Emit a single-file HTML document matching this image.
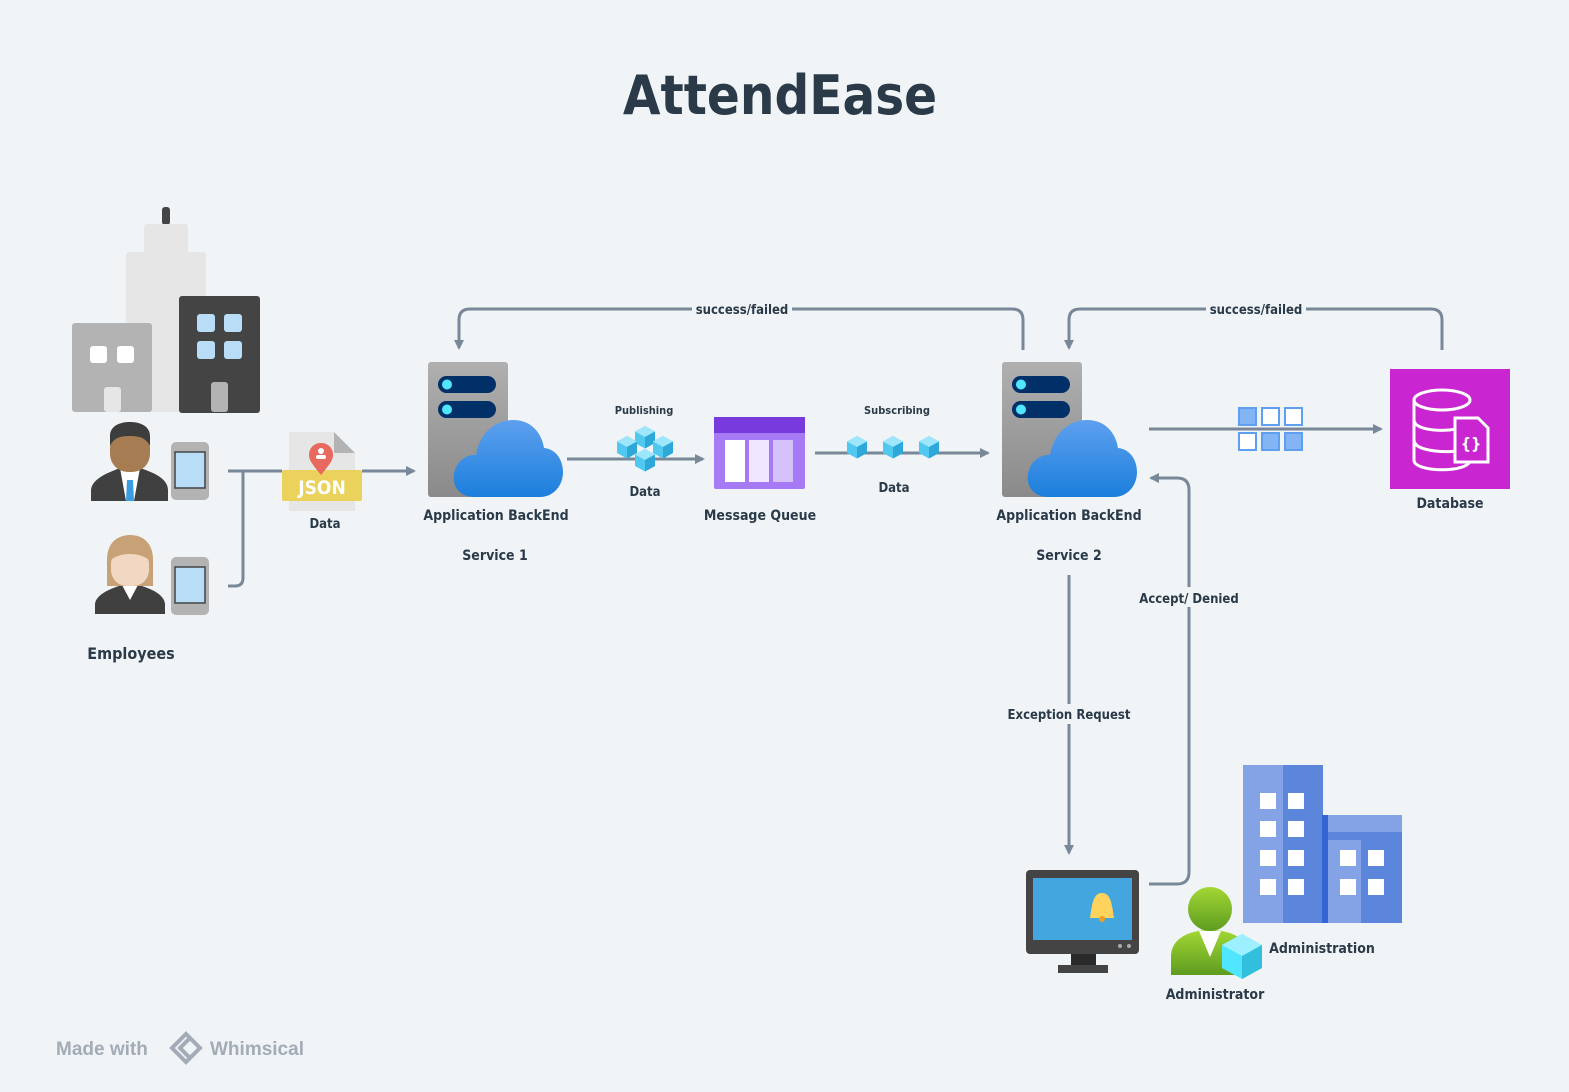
<!DOCTYPE html>
<html><head><meta charset="utf-8"><style>
html,body{margin:0;padding:0;background:#f0f4f7;}
svg{display:block}
text{font-family:"DejaVu Sans Condensed","Liberation Sans",sans-serif;font-weight:bold;fill:#2a3a48}
</style></head><body>
<svg width="1569" height="1092" viewBox="0 0 1569 1092" xmlns="http://www.w3.org/2000/svg">
<defs>
<marker id="ah" markerWidth="10" markerHeight="10" refX="8" refY="5" orient="auto" markerUnits="userSpaceOnUse"><path d="M0,0 L10,5 L0,10 z" fill="#788898"/></marker>
<linearGradient id="srv" x1="0" y1="0" x2="0" y2="1"><stop offset="0" stop-color="#b0b0b0"/><stop offset="1" stop-color="#8a8a8a"/></linearGradient>
<linearGradient id="cld" x1="0" y1="0" x2="0" y2="1"><stop offset="0" stop-color="#5ea0ef"/><stop offset="1" stop-color="#1b7fdc"/></linearGradient>
<linearGradient id="grn" x1="0" y1="0" x2="0" y2="1"><stop offset="0" stop-color="#a3d734"/><stop offset="1" stop-color="#5e9c20"/></linearGradient>
<g id="server">
<rect x="0" y="0" width="80" height="135" rx="3" fill="url(#srv)"/>
<rect x="10" y="14" width="58" height="17" rx="8.5" fill="#003067"/>
<rect x="10" y="39" width="58" height="17" rx="8.5" fill="#003067"/>
<circle cx="19" cy="22.5" r="5" fill="#50e6ff"/><circle cx="19" cy="47.5" r="5" fill="#50e6ff"/>
<path d="M47,135 C27,135 23,118 27,108 C30,98 40,92 48,93 C52,70 68,58 85,58 C104,58 114,72 116,86 C128,87 135,98 135,110 C135,124 125,135 112,135 Z" fill="url(#cld)"/>
</g>
<g id="cube"><path d="M0,-11 L10,-5.5 L10,6 L0,11.5 L-10,6 L-10,-5.5Z" fill="#50c8ef"/><path d="M0,-11 L10,-5.5 L0,0 L-10,-5.5Z" fill="#9ee6fb"/><path d="M0,0 L10,-5.5 L10,6 L0,11.5Z" fill="#2ea8d8"/></g>
</defs>

<text x="780" y="114" font-size="54" text-anchor="middle" fill="#253544">AttendEase</text>

<!-- buildings -->
<rect x="162" y="207" width="8" height="18" rx="3" fill="#444"/>
<rect x="144" y="224" width="44" height="30" rx="3" fill="#e6e6e6"/>
<rect x="126" y="252" width="80" height="160" rx="3" fill="#e6e6e6"/>
<rect x="72" y="323" width="80" height="89" rx="3" fill="#b3b3b3"/>
<rect x="90" y="346" width="17" height="17" rx="3" fill="#fff"/><rect x="117" y="346" width="17" height="17" rx="3" fill="#fff"/>
<rect x="104" y="387" width="17" height="25" rx="3" fill="#e6e6e6"/>
<rect x="179" y="296" width="81" height="117" rx="3" fill="#444"/>
<rect x="197" y="314" width="18" height="18" rx="3" fill="#b9dcf7"/><rect x="224" y="314" width="18" height="18" rx="3" fill="#b9dcf7"/>
<rect x="197" y="341" width="18" height="18" rx="3" fill="#b9dcf7"/><rect x="224" y="341" width="18" height="18" rx="3" fill="#b9dcf7"/>
<rect x="211" y="382" width="17" height="30" rx="3" fill="#b3b3b3"/>

<!-- male -->
<path d="M91,501 L91,490 C92,478 110,472 120,468 L140,468 C152,472 168,478 168,490 L168,501Z" fill="#404040"/>
<path d="M120,468 L140,468 L134,501 L126,501Z" fill="#fff"/>
<path d="M127,480 L133,480 L134,501 L126,501Z" fill="#3a9de0"/>
<rect x="110" y="430" width="40" height="42" rx="18" fill="#a67c52"/>
<path d="M110,446 L110,436 C110,426 120,422 130,422 C140,422 150,426 150,436 L150,446 C146,438 140,436 130,436 C120,436 114,438 110,446Z" fill="#3d3d3d"/>
<rect x="171" y="442" width="38" height="58" rx="5" fill="#b3b3b3"/><rect x="175" y="452" width="30" height="36" fill="#b9dcf7" stroke="#444" stroke-width="1.5"/>
<!-- female -->
<path d="M95,614 L95,604 C96,594 112,588 122,585 L138,585 C150,588 164,594 165,604 L165,614Z" fill="#404040"/>
<path d="M122,585 L138,585 L130,600Z" fill="#fff"/>
<path d="M107,575 L107,560 C107,542 118,535 130,535 C142,535 153,542 153,560 L153,586 L107,586Z" fill="#c8a176"/>
<rect x="111" y="548" width="38" height="38" rx="16" fill="#f2d7c2"/>
<path d="M111,560 C112,545 122,540 130,540 C140,540 148,545 149,560 C140,552 120,552 111,560Z" fill="#c8a176"/>
<rect x="171" y="557" width="38" height="58" rx="5" fill="#b3b3b3"/><rect x="175" y="567" width="30" height="36" fill="#b9dcf7" stroke="#444" stroke-width="1.5"/>
<text x="131" y="659" font-size="16" text-anchor="middle">Employees</text>

<g fill="none" stroke="#788898" stroke-width="3">
<path d="M228,471 L282,471"/>
<path d="M243,471 L243,578 Q243,586 235,586 L228,586"/>
<path d="M362,471 L414,471" marker-end="url(#ah)"/>
<path d="M567,459 L703,459" marker-end="url(#ah)"/>
<path d="M815,453 L988,453" marker-end="url(#ah)"/>
<path d="M1023,350 L1023,320 Q1023,309 1012,309 L470,309 Q459,309 459,320 L459,348" marker-end="url(#ah)"/>
<path d="M1442,350 L1442,320 Q1442,309 1431,309 L1080,309 Q1069,309 1069,320 L1069,348" marker-end="url(#ah)"/>
<path d="M1149,429 L1381,429" marker-end="url(#ah)"/>
<path d="M1069,575 L1069,853" marker-end="url(#ah)"/>
<path d="M1149,884 L1177,884 Q1189,884 1189,872 L1189,490 Q1189,478 1177,478 L1151,478" marker-end="url(#ah)"/>
</g>
<rect x="692" y="300" width="100" height="18" fill="#f0f4f7"/>
<text x="742" y="314" font-size="13" text-anchor="middle">success/failed</text>
<rect x="1206" y="300" width="100" height="18" fill="#f0f4f7"/>
<text x="1256" y="314" font-size="13" text-anchor="middle">success/failed</text>
<rect x="1006" y="704" width="126" height="20" fill="#f0f4f7"/>
<text x="1069" y="719" font-size="13" text-anchor="middle">Exception Request</text>
<rect x="1138" y="587" width="102" height="20" fill="#f0f4f7"/>
<text x="1189" y="603" font-size="13" text-anchor="middle">Accept/ Denied</text>

<!-- JSON -->
<path d="M289,432 L334,432 L355,453 L355,511 L289,511Z" fill="#e6e6e6"/>
<path d="M334,432 L355,453 L334,453Z" fill="#b3b3b3"/>
<rect x="282" y="470" width="80" height="31" rx="2" fill="#ebd25c"/>
<path d="M321,475 C312,464 309,460 309,455 C309,448 314,443 321,443 C328,443 333,448 333,455 C333,460 330,464 321,475Z" fill="#e8695e"/>
<circle cx="321" cy="451" r="3" fill="#fff"/><rect x="316" y="455" width="10" height="4" rx="2" fill="#fff"/>
<text x="322" y="494" font-size="19" text-anchor="middle" style="fill:#fff">JSON</text>
<text x="325" y="528" font-size="13" text-anchor="middle">Data</text>

<use href="#server" x="428" y="362"/>
<text x="496" y="520" font-size="14" text-anchor="middle">Application BackEnd</text>
<text x="495" y="560" font-size="14" text-anchor="middle">Service 1</text>

<use href="#cube" x="645" y="437"/><use href="#cube" x="627" y="447"/><use href="#cube" x="663" y="447"/><use href="#cube" x="645" y="460"/>
<text x="644" y="414" font-size="11" text-anchor="middle">Publishing</text>
<text x="645" y="496" font-size="13" text-anchor="middle">Data</text>

<rect x="714" y="417" width="91" height="72" rx="2" fill="#a67af4"/>
<rect x="714" y="417" width="91" height="16" fill="#773adc"/>
<rect x="725" y="440" width="20" height="42" fill="#fff"/><rect x="749" y="440" width="20" height="42" fill="#f0e6ff"/><rect x="773" y="440" width="20" height="42" fill="#d6c2fb"/>
<text x="760" y="520" font-size="14" text-anchor="middle">Message Queue</text>

<use href="#cube" x="857" y="447"/><use href="#cube" x="893" y="447"/><use href="#cube" x="929" y="447"/>
<text x="897" y="414" font-size="11" text-anchor="middle">Subscribing</text>
<text x="894" y="492" font-size="13" text-anchor="middle">Data</text>

<use href="#server" x="1002" y="362"/>
<text x="1069" y="520" font-size="14" text-anchor="middle">Application BackEnd</text>
<text x="1069" y="560" font-size="14" text-anchor="middle">Service 2</text>

<g stroke="#5ea0ef" stroke-width="2">
<rect x="1239" y="408" width="17" height="17" fill="#83b4f3"/><rect x="1262" y="408" width="17" height="17" fill="#fff"/><rect x="1285" y="408" width="17" height="17" fill="#fff"/>
<rect x="1239" y="433" width="17" height="17" fill="#fff"/><rect x="1262" y="433" width="17" height="17" fill="#83b4f3"/><rect x="1285" y="433" width="17" height="17" fill="#83b4f3"/>
</g>

<rect x="1390" y="369" width="120" height="120" fill="#c925d1"/>
<g fill="none" stroke="#fff" stroke-width="3">
<ellipse cx="1442" cy="400" rx="28" ry="10"/>
<path d="M1414,400 L1414,460 C1414,473 1470,473 1470,460"/>
<path d="M1414,420 C1414,433 1460,433 1468,424"/><path d="M1414,440 C1414,453 1455,453 1460,450"/>
<path d="M1455,418 L1478,418 L1488,428 L1488,462 L1455,462Z" fill="#c925d1"/>
</g>
<text x="1471" y="449" font-size="16" text-anchor="middle" style="fill:#fff">{}</text>
<text x="1450" y="508" font-size="14" text-anchor="middle">Database</text>

<rect x="1026" y="870" width="113" height="84" rx="4" fill="#444"/>
<rect x="1033" y="878" width="99" height="62" fill="#44a6de"/>
<path d="M1090,918 C1092,905 1093,893 1102,893 C1111,893 1112,905 1114,918Z" fill="#ffd35c"/>
<circle cx="1102" cy="919" r="3" fill="#f0a020"/>
<circle cx="1120" cy="946" r="2" fill="#aaa"/><circle cx="1129" cy="946" r="2" fill="#aaa"/>
<rect x="1071" y="954" width="25" height="11" fill="#2a2a2a"/><rect x="1058" y="965" width="50" height="8" fill="#444"/>

<path d="M1171,975 L1171,955 C1172,938 1190,930 1210,930 C1230,930 1248,938 1250,955 L1250,975Z" fill="url(#grn)"/>
<path d="M1199,931 L1221,931 L1210,957Z" fill="#fff"/>
<circle cx="1210" cy="909" r="22" fill="url(#grn)"/>
<path d="M1242,934 L1262,945 L1262,968 L1242,979 L1222,968 L1222,945Z" fill="#50e6ff"/>
<path d="M1242,934 L1262,945 L1242,956 L1222,945Z" fill="#9cf0ff"/>
<path d="M1242,956 L1262,945 L1262,968 L1242,979Z" fill="#32bedd"/>
<text x="1215" y="999" font-size="14" text-anchor="middle">Administrator</text>

<rect x="1243" y="765" width="40" height="158" fill="#83a3e6"/>
<rect x="1283" y="765" width="40" height="158" fill="#5b86dc"/>
<rect x="1322" y="815" width="80" height="108" fill="#5b86dc"/>
<rect x="1322" y="815" width="80" height="17" fill="#83a3e6"/>
<rect x="1328" y="840" width="33" height="83" fill="#83a3e6"/>
<rect x="1322" y="815" width="6" height="108" fill="#3565d4"/>
<g fill="#fff">
<rect x="1260" y="793" width="16" height="16"/><rect x="1288" y="793" width="16" height="16"/>
<rect x="1260" y="821" width="16" height="16"/><rect x="1288" y="821" width="16" height="16"/>
<rect x="1260" y="850" width="16" height="16"/><rect x="1288" y="850" width="16" height="16"/>
<rect x="1260" y="879" width="16" height="16"/><rect x="1288" y="879" width="16" height="16"/>
<rect x="1340" y="850" width="16" height="16"/><rect x="1368" y="850" width="16" height="16"/>
<rect x="1340" y="879" width="16" height="16"/><rect x="1368" y="879" width="16" height="16"/>
</g>
<text x="1322" y="953" font-size="14" text-anchor="middle">Administration</text>

<text x="56" y="1055" font-size="19" style="fill:#a3acb6;font-family:'Liberation Sans',sans-serif">Made with</text>
<path d="M186,1034 L200,1048 L186,1062 L172,1048Z M180,1048 L190,1038 L200,1048 L190,1058Z" fill="none" stroke="#a3acb6" stroke-width="4"/>
<text x="210" y="1055" font-size="19" style="fill:#a3acb6;font-family:'Liberation Sans',sans-serif">Whimsical</text>
</svg>
</body></html>
